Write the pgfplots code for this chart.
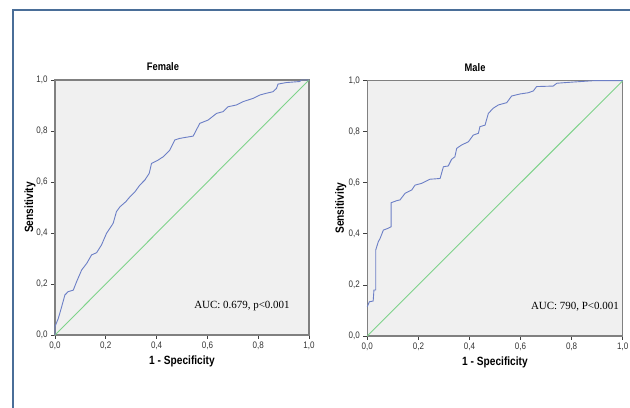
\documentclass[border=0pt]{standalone}
\usepackage{pgfplots}
\pgfplotsset{compat=1.18}
\usepackage{fontspec}
\setmainfont{Liberation Serif}
\newfontfamily\narrow[FakeStretch=0.85]{Liberation Sans}
\definecolor{roc}{HTML}{6C7FC6}
\definecolor{diag}{HTML}{7ED38A}
\definecolor{frame}{HTML}{4A6E98}
\definecolor{axbg}{HTML}{F0F0F0}

\pgfplotsset{
  rocaxis/.style={
    scale only axis,
    xmin=0, xmax=1, ymin=0, ymax=1,
    xtick={0,0.2,0.4,0.6,0.8,1}, ytick={0,0.2,0.4,0.6,0.8,1},
    xticklabels={{0,0},{0,2},{0,4},{0,6},{0,8},{1,0}},
    yticklabels={{0,0},{0,2},{0,4},{0,6},{0,8},{1,0}},
    xtick pos=left, ytick pos=left,
    tick align=outside, major tick length=4bp,
    axis background/.style={fill=axbg},
    axis line style={draw=black!50, line width=1.1bp},
    every tick/.style={black!75, line width=0.8bp},
    tick label style={font=\narrow\fontsize{9.5}{9.5}\selectfont, text=black!80},
    xticklabel style={yshift=1bp},
    title style={font=\narrow\bfseries\fontsize{11}{11}\selectfont, anchor=center},
    label style={font=\narrow\bfseries\fontsize{12}{12}\selectfont},
    xlabel={1 - Specificity},
    ylabel={Sensitivity},
    xlabel style={at={(axis description cs:0.5,-0.105)}, anchor=center},
    clip=false,
  },
  rocline/.style={color=roc, line width=0.9bp},
  diagline/.style={color=diag, line width=0.9bp},
}

\begin{document}
\begin{tikzpicture}
\path[use as bounding box] (0,0) rectangle (630bp,408bp);
\draw[frame, line width=2bp] (13bp,0) -- (13bp,398bp) -- (640bp,398bp);

\begin{axis}[rocaxis,
  at={(55bp,73bp)}, anchor=south west,
  width=254bp, height=255bp,
  title={Female},
  title style={at={(axis description cs:0.425,1.029)}},
  ylabel style={at={(axis description cs:-0.098,0.5)}, anchor=center},
]
\addplot[diagline] coordinates {(0,0) (1,1)};
\addplot[rocline] coordinates {
(0,0) (0,0.033) (0.013,0.065) (0.026,0.11) (0.039,0.157) (0.052,0.17)
(0.072,0.176) (0.085,0.209) (0.105,0.255) (0.125,0.281) (0.144,0.314)
(0.164,0.323) (0.183,0.353) (0.203,0.399) (0.229,0.438) (0.242,0.484)
(0.256,0.503) (0.279,0.523) (0.295,0.542) (0.315,0.562) (0.334,0.588)
(0.354,0.608) (0.371,0.634) (0.380,0.673) (0.406,0.686) (0.426,0.699)
(0.452,0.725) (0.472,0.765) (0.491,0.771) (0.544,0.780) (0.570,0.830)
(0.603,0.843) (0.636,0.869) (0.662,0.876) (0.681,0.895) (0.714,0.902)
(0.740,0.915) (0.780,0.928) (0.806,0.941) (0.832,0.948) (0.858,0.954)
(0.872,0.967) (0.878,0.984) (0.911,0.990) (0.963,0.994) (0.970,1.0) (1,1)
};
\node[font=\fontsize{11}{11}\selectfont] at (rel axis cs:0.736,0.114) {AUC: 0.679, p<0.001};
\end{axis}

\begin{axis}[rocaxis,
  at={(367.3bp,72bp)}, anchor=south west,
  width=255.4bp, height=255.3bp,
  title={Male},
  title style={at={(axis description cs:0.422,1.029)}},
  ylabel style={at={(axis description cs:-0.104,0.5)}, anchor=center},
]
\addplot[diagline] coordinates {(0,0) (1,1)};
\addplot[rocline] coordinates {
(0,0.115) (0.008,0.134) (0.023,0.137) (0.026,0.18) (0.033,0.18)
(0.033,0.337) (0.043,0.369) (0.050,0.382) (0.063,0.415) (0.082,0.422)
(0.093,0.428) (0.093,0.522) (0.115,0.530) (0.128,0.533) (0.148,0.559)
(0.174,0.572) (0.187,0.591) (0.213,0.598) (0.245,0.614) (0.285,0.617)
(0.298,0.663) (0.317,0.666) (0.330,0.692) (0.343,0.702) (0.350,0.735)
(0.369,0.748) (0.396,0.761) (0.415,0.787) (0.435,0.794) (0.441,0.820)
(0.461,0.826) (0.474,0.872) (0.493,0.892) (0.513,0.905) (0.546,0.914)
(0.565,0.940) (0.598,0.948) (0.631,0.953) (0.650,0.960) (0.663,0.977)
(0.728,0.979) (0.742,0.990) (0.781,0.993) (0.885,1.0) (1,1)
};
\node[font=\fontsize{11}{11}\selectfont] at (rel axis cs:0.813,0.115) {AUC: 790, P<0.001};
\end{axis}
\end{tikzpicture}
\end{document}
